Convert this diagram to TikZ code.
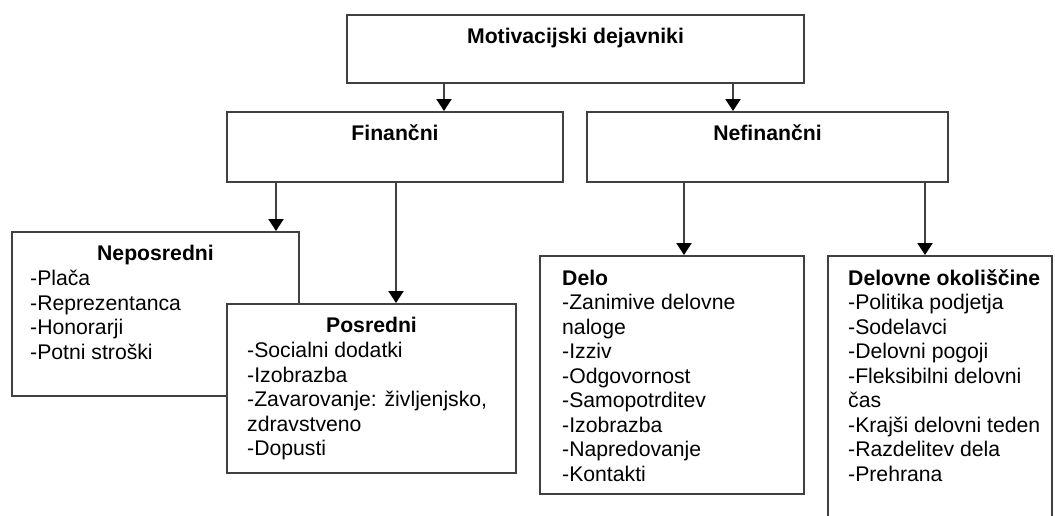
\documentclass[tikz,border=0pt]{standalone}
\usepackage{fontspec}
\setmainfont{Liberation Sans}
\usetikzlibrary{arrows.meta}
\newcommand{\diafont}{\fontsize{21.2}{24.5}\selectfont}

\begin{document}
\begin{tikzpicture}[x=1pt,y=-1pt,font=\diafont,
    box/.style={rectangle,draw=black!75,line width=2pt,fill=white,inner sep=0pt},
    head/.style={font=\diafont\bfseries,anchor=base,inner sep=0pt},
    items/.style={align=left,anchor=base west,inner sep=0pt},
    arr/.style={draw=black!75,line width=2pt,-{Triangle[length=12pt,width=15pt,black]}}]
    \useasboundingbox (0,0) rectangle (1055,515);
    \clip (0,0) rectangle (1055,515);
    \node[box,minimum width=457pt,minimum height=68pt] (M) at (575.5,49) {};
    \node[box,minimum width=336pt,minimum height=70pt] (F) at (395,147) {};
    \node[box,minimum width=361pt,minimum height=70pt] (N) at (767.5,147) {};
    \node[box,minimum width=287pt,minimum height=164pt] (Nep) at (155.5,314) {};
    \node[box,minimum width=289pt,minimum height=169pt] (Pos) at (371.5,388.5) {};
    \node[box,minimum width=264pt,minimum height=238pt] (Del) at (672,375) {};
    \node[box,minimum width=224pt,minimum height=288pt] (Okl) at (940,400) {};
    % naslovi
    \node[head] (Mt) at ([yshift=-29pt]M.north) {Motivacijski dejavniki};
    \node[head] (Ft) at ([yshift=-29pt]F.north) {Finančni};
    \node[head] (Nt) at ([yshift=-29pt]N.north) {Nefinančni};
    \node[head] (Nept) at ([yshift=-29pt]Nep.north) {Neposredni};
    \node[head] (Post) at ([yshift=-29pt]Pos.north) {Posredni};
    % seznami (base = zadnja vrstica)
    \node[items] (Nepi) at (30,359) {-Plača\\-Reprezentanca\\-Honorarji\\-Potni stroški};
    \node[items] (Posi) at (247,455.5) {-Socialni dodatki\\-Izobrazba\\-Zavarovanje: življenjsko,\\zdravstveno\\-Dopusti};
    \node[items] (Deli) at (562,481) {\textbf{Delo}\\-Zanimive delovne\\naloge\\-Izziv\\-Odgovornost\\-Samopotrditev\\-Izobrazba\\-Napredovanje\\-Kontakti};
    \node[items] (Okli) at (848,481) {\textbf{Delovne okoliščine}\\-Politika podjetja\\-Sodelavci\\-Delovni pogoji\\-Fleksibilni delovni\\čas\\-Krajši delovni teden\\-Razdelitev dela\\-Prehrana};
    % puscice
    \draw[arr] ([xshift=-131.5pt]M.south) -- ([xshift=-131.5pt]M.south |- F.north);
    \draw[arr] ([xshift=157.5pt]M.south) -- ([xshift=157.5pt]M.south |- N.north);
    \draw[arr] ([xshift=-119pt]F.south) -- ([xshift=-119pt]F.south |- Nep.north);
    \draw[arr] ([xshift=1pt]F.south) -- ([xshift=1pt]F.south |- Pos.north);
    \draw[arr] ([xshift=-83.5pt]N.south) -- ([xshift=-83.5pt]N.south |- Del.north);
    \draw[arr] ([xshift=157.5pt]N.south) -- ([xshift=157.5pt]N.south |- Okl.north);
\end{tikzpicture}
\end{document}
